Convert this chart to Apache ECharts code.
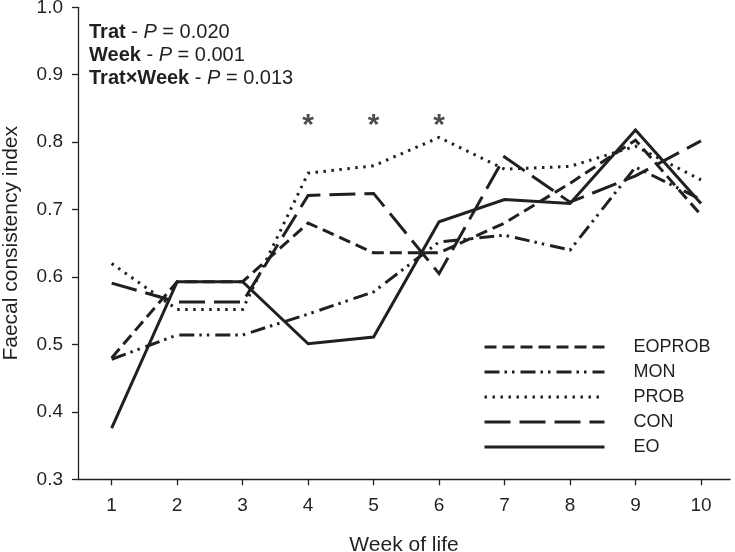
<!DOCTYPE html>
<html>
<head>
<meta charset="utf-8">
<script src="https://cdn.jsdelivr.net/npm/echarts@6/dist/echarts.min.js"></script>
<style>
html,body{margin:0;padding:0;background:#fff;}
#chart{width:735px;height:552px;}
</style>
</head>
<body>
<div id="chart"></div>
<script>
// ---- data ----
const weeks = [1, 2, 3, 4, 5, 6, 7, 8, 9, 10];
const EOPROB = [0.480, 0.593, 0.593, 0.680, 0.636, 0.636, 0.680, 0.739, 0.803, 0.692];
const MON    = [0.478, 0.514, 0.514, 0.545, 0.578, 0.652, 0.662, 0.640, 0.763, 0.715];
const PROB   = [0.620, 0.552, 0.552, 0.754, 0.765, 0.807, 0.760, 0.764, 0.794, 0.744];
const CON    = [0.591, 0.563, 0.563, 0.721, 0.724, 0.605, 0.778, 0.711, 0.750, 0.802];
const EO     = [0.376, 0.593, 0.593, 0.501, 0.511, 0.682, 0.715, 0.709, 0.818, 0.709];
const yTicks = [0.3, 0.4, 0.5, 0.6, 0.7, 0.8, 0.9, 1.0];
const starWeeks = [4, 5, 6];
const starLevel = 0.825;
const statLines = [
  ['Trat', '0.020'],
  ['Week', '0.001'],
  ['Trat×Week', '0.013']
];
const legendOrder = ['EOPROB', 'MON', 'PROB', 'CON', 'EO'];

const INK = '#231f20';
const FONT = 'Liberation Sans, Arial, Helvetica, sans-serif';

function pairs(vals) { return weeks.map((w, i) => [w, vals[i]]); }

const styles = {
  EOPROB: [12, 6],
  MON: [15, 5, 2.5, 5, 2.5, 6],
  PROB: [2.5, 5.5],
  CON: [26, 9],
  EO: 'solid'
};
const seriesData = { EOPROB, MON, PROB, CON, EO };

const lineSeries = ['EO', 'CON', 'PROB', 'MON', 'EOPROB'].map(name => ({
  name: name,
  type: 'line',
  data: pairs(seriesData[name]),
  symbol: 'none',
  lineStyle: { color: INK, width: 3, type: styles[name], cap: 'butt', join: 'miter' },
  itemStyle: { color: INK },
  z: 3
}));

const chart = echarts.init(document.getElementById('chart'), null, { renderer: 'canvas' });

chart.setOption({
  animation: false,
  backgroundColor: '#fff',
  grid: { left: 78, right: 5, top: 7.3, bottom: 72.7, containLabel: false, outerBoundsMode: 'none' },
  xAxis: {
    type: 'value',
    min: 0.486,
    max: 10.443,
    name: 'Week of life',
    nameLocation: 'middle',
    nameGap: 55,
    nameTextStyle: { fontFamily: FONT, fontSize: 21, color: INK },
    axisLine: { show: true, onZero: false, lineStyle: { color: INK, width: 1.3 } },
    axisTick: { show: true, inside: false, length: 6, customValues: weeks, lineStyle: { color: INK, width: 1.3 } },
    axisLabel: { customValues: weeks, fontFamily: FONT, fontSize: 19, color: INK, margin: 17 },
    splitLine: { show: false }
  },
  yAxis: {
    type: 'value',
    min: 0.3,
    max: 1.0,
    name: 'Faecal consistency index',
    nameLocation: 'middle',
    nameGap: 56,
    nameRotate: 90,
    nameTextStyle: { fontFamily: FONT, fontSize: 21, color: INK },
    axisLine: { show: true, lineStyle: { color: INK, width: 1.3 } },
    axisTick: { show: true, inside: false, length: 6, customValues: yTicks, lineStyle: { color: INK, width: 1.3 } },
    axisLabel: { customValues: yTicks, fontFamily: FONT, fontSize: 19, color: INK, margin: 15,
      formatter: v => v.toFixed(1) },
    splitLine: { show: false }
  },
  legend: {
    data: legendOrder,
    orient: 'vertical',
    left: 483,
    top: 338,
    padding: 0,
    itemWidth: 120,
    itemHeight: 14,
    itemGap: 7,
    itemStyle: { color: 'rgba(0,0,0,0)', borderWidth: 0, opacity: 0 },
    lineStyle: { width: 3 },
    textStyle: { fontFamily: FONT, fontSize: 18, color: INK, lineHeight: 18, padding: [0, 0, 0, 24] },
    selectedMode: false
  },
  graphic: statLines.map((s, i) => ({
    type: 'text',
    left: 89,
    top: 22 + i * 23.2,
    style: {
      text: '{b|' + s[0] + '} - {i|P} = ' + s[1],
      fontFamily: FONT,
      fontSize: 20,
      fill: INK,
      rich: {
        b: { fontWeight: 'bold', fontFamily: FONT, fontSize: 20, fill: INK },
        i: { fontStyle: 'italic', fontFamily: FONT, fontSize: 20, fill: INK }
      }
    }
  })),
  series: lineSeries.concat([{
    name: 'stars',
    type: 'scatter',
    data: starWeeks.map(w => [w, starLevel]),
    symbolSize: 1,
    itemStyle: { color: 'rgba(0,0,0,0)' },
    label: { show: true, position: 'inside', formatter: '*', fontFamily: FONT, fontSize: 30, fontWeight: 'bold', color: INK },
    silent: true,
    z: 4
  }])
});
</script>
</body>
</html>
